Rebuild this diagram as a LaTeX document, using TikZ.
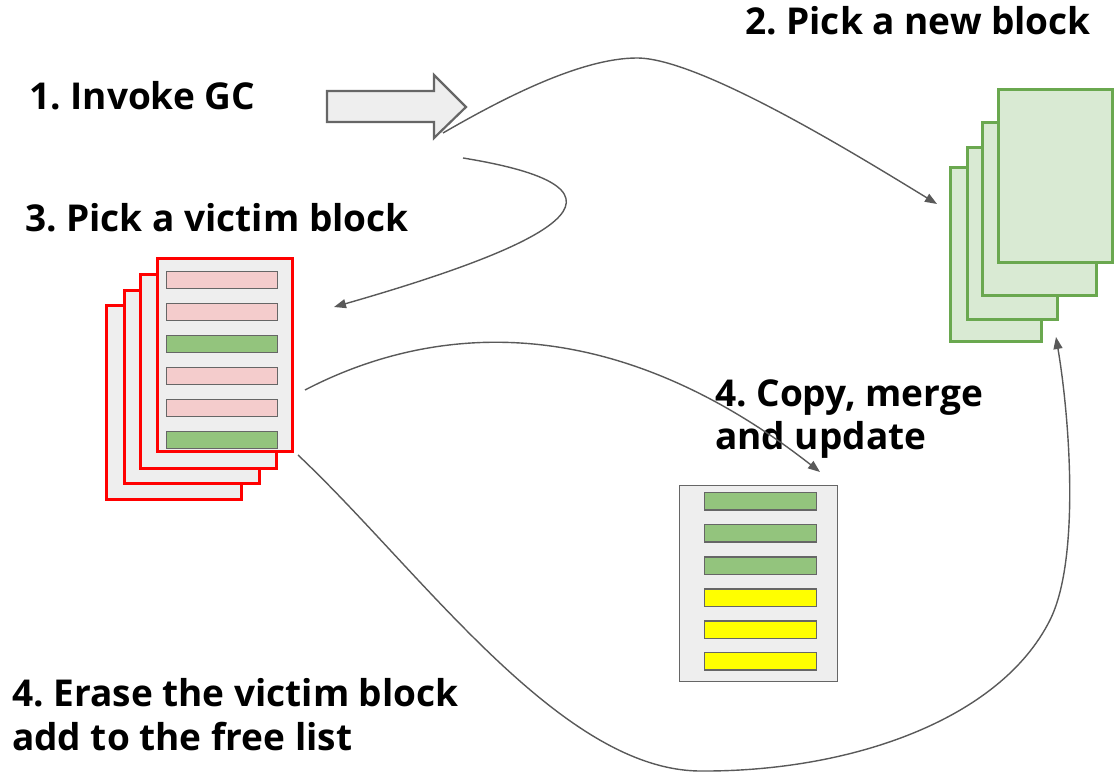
\documentclass[tikz,border=0pt]{standalone}
\usepackage{fontspec}
\setmainfont{Open Sans}
\usetikzlibrary{arrows.meta}
\frenchspacing
\definecolor{conn}{HTML}{595959}
\definecolor{edge}{HTML}{666666}
\definecolor{paper}{HTML}{EEEEEE}
\definecolor{gedge}{HTML}{6AA84F}
\definecolor{gfill}{HTML}{D9EAD3}
\definecolor{gbar}{HTML}{93C47D}
\definecolor{pbar}{HTML}{F4CCCC}
\definecolor{ybar}{HTML}{FFFF00}
\newcommand\boxnode[6]{\node[#1, anchor=north west, minimum width={#5-#3}, minimum height={#6-#4}] (#2) at (#3,#4) {};}
\begin{document}
\begin{tikzpicture}[x=1pt,y=-1pt,
  label/.style={anchor=base west, inner sep=0pt, font=\fontsize{37}{44}\selectfont\bfseries},
  box/.style={rectangle, inner sep=0pt, outer sep=0pt},
  newblk/.style={box, draw=gedge, fill=gfill, line width=3.2pt},
  victim/.style={box, draw=red, fill=paper, line width=3.2pt},
  copyblk/.style={box, draw=edge, fill=paper, line width=1.6pt},
  bar/.style={box, draw=edge, line width=1.6pt},
  flow/.style={draw=conn, line width=1.4pt, -{Triangle[length=12pt,width=9pt]}}
]
\useasboundingbox (0,0) rectangle (1117,773);

% labels
\node[label] (t1) at (29,110) {1. Invoke GC};
\node[label] (t2) at (745,35) {2. Pick a new block};
\node[label] (t3) at (25,231) {3. Pick a victim block};
\node[label] (t4a) at (715,406) {4. Copy, merge};
\node[label] (t4b) at (715,449) {and update};
\node[label] (t5a) at (12,706) {4. Erase the victim block};
\node[label] (t5b) at (12,750) {add to the free list};

% big arrow
\draw[draw=edge, fill=paper, line width=2.2pt, line join=miter]
  (327,91) -- (434,91) -- (434,75) -- (466,107) -- (434,138) -- (434,122) -- (327,122) -- cycle;
\coordinate (gc) at (443,133);
\coordinate (gc2) at (463,158);

% new blocks
\boxnode{newblk}{g1}{950.5}{167.5}{1041.5}{341.5}
\boxnode{newblk}{g2}{967.5}{147.5}{1057.5}{319.5}
\boxnode{newblk}{g3}{982.5}{122.5}{1096.5}{295.5}
\boxnode{newblk}{g4}{998.5}{89.5}{1112.5}{262.5}

% victim blocks
\boxnode{victim}{r1}{106.5}{305.5}{241.5}{499.5}
\boxnode{victim}{r2}{124.5}{290.5}{259.5}{483.5}
\boxnode{victim}{r3}{140.5}{274.5}{276.5}{468.5}
\boxnode{victim}{r4}{157.5}{258.5}{292.5}{451.5}
\boxnode{bar,fill=pbar}{rb1}{166.5}{271.5}{277.5}{288.5}
\boxnode{bar,fill=pbar}{rb2}{166.5}{303.5}{277.5}{320.5}
\boxnode{bar,fill=gbar}{rb3}{166.5}{335.5}{277.5}{352.5}
\boxnode{bar,fill=pbar}{rb4}{166.5}{367.5}{277.5}{384.5}
\boxnode{bar,fill=pbar}{rb5}{166.5}{399.5}{277.5}{416.5}
\boxnode{bar,fill=gbar}{rb6}{166.5}{431.5}{277.5}{448.5}

% copied block
\boxnode{copyblk}{c}{679.5}{485.5}{837.5}{681.5}
\boxnode{bar,fill=gbar}{cb1}{704.5}{492.5}{816.5}{510}
\boxnode{bar,fill=gbar}{cb2}{704.5}{524.5}{816.5}{542}
\boxnode{bar,fill=gbar}{cb3}{704.5}{557}{816.5}{574.5}
\boxnode{bar,fill=ybar}{cb4}{704.5}{589}{816.5}{606.5}
\boxnode{bar,fill=ybar}{cb5}{704.5}{621}{816.5}{638.5}
\boxnode{bar,fill=ybar}{cb6}{704.5}{652.5}{816.5}{670}

% connector endpoints
\coordinate (gin) at (937,204);
\coordinate (rin) at (334,307);
\coordinate (rout) at (305,390);
\coordinate (cin) at (820,472);
\coordinate (rcorner) at (298,455);
\coordinate (gup) at (1056,337);

% connectors
\draw[flow] (gc) .. controls (500,100) and (580,58) .. (637,58)
  .. controls (700,58) and (860,157) .. (gin);
\draw[flow] (gc2) .. controls (660,190) and (550,245) .. (rin);
\draw[flow] (rout) .. controls (420,330) and (600,300) .. (cin);
\draw[flow] (rcorner) .. controls (420,570) and (560,770) .. (700,771)
  .. controls (850,772) and (1000,720) .. (1050,620)
  .. controls (1080,560) and (1070,420) .. (gup);
\end{tikzpicture}
\end{document}
